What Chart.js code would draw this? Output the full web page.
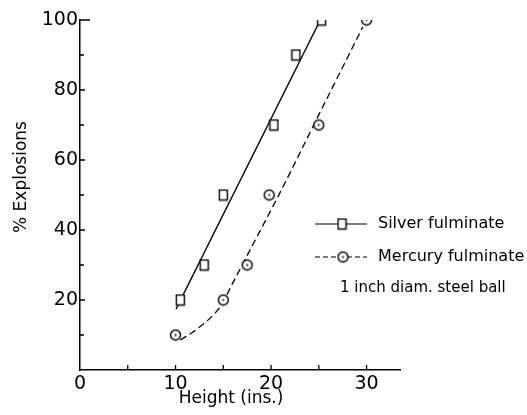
<!DOCTYPE html>
<html>
<head>
<meta charset="utf-8">
<script src="https://cdn.jsdelivr.net/npm/chart.js@4/dist/chart.umd.min.js"></script>
<style>
  html, body { margin: 0; padding: 0; background: #fff; }
  #wrap { width: 527px; height: 415px; position: relative; }
</style>
</head>
<body>
<div id="wrap"><canvas id="c" width="527" height="415"></canvas></div>
<script>
// ---- data ----
const silverX = [10.5, 13, 15, 20.3, 22.6, 25.3];
const silverY = [20, 30, 50, 70, 90, 100];
const mercuryX = [10, 15, 17.5, 19.8, 25, 30];
const mercuryY = [10, 20, 30, 50, 70, 100];
const silverFitX = [10.05, 24.9];
const silverFitY = [17.4, 98.6];
const mercuryCurveX = [10.5, 12.2, 14.7, 16, 17.8, 20.7, 25, 29.6];
const mercuryCurveY = [8.6, 11.6, 18.2, 24.9, 34.3, 49.4, 72.9, 98];
const xTickLabels = [0, 10, 20, 30];
const xMinorTicks = [5, 15, 25];
const yTickLabels = [20, 40, 60, 80, 100];
const yMinorTicks = [10, 30, 50, 70, 90];
const legendLabels = ['Silver fulminate', 'Mercury fulminate'];
const noteText = '1 inch diam. steel ball';
const xTitle = 'Height (ins.)';
const yTitle = '% Explosions';

const FONT = '"DejaVu Sans", "Liberation Sans", sans-serif';

function zip(xs, ys) { return xs.map((x, i) => ({ x: x, y: ys[i] })); }

function makeSquare() {
  const c = document.createElement('canvas');
  c.width = 11; c.height = 13;
  const g = c.getContext('2d');
  g.fillStyle = '#fff'; g.fillRect(1, 1, 9, 11);
  g.strokeStyle = '#000'; g.lineWidth = 1.4;
  g.strokeRect(1.5, 1.5, 8, 10);
  return c;
}
function makeCircle() {
  const c = document.createElement('canvas');
  c.width = 13; c.height = 13;
  const g = c.getContext('2d');
  g.fillStyle = '#fff';
  g.beginPath(); g.arc(6.5, 6.5, 5, 0, Math.PI * 2); g.fill();
  g.strokeStyle = '#000'; g.lineWidth = 1.4;
  g.beginPath(); g.arc(6.5, 6.5, 5, 0, Math.PI * 2); g.stroke();
  g.fillStyle = '#000';
  g.beginPath(); g.arc(6.5, 6.5, 1, 0, Math.PI * 2); g.fill();
  return c;
}
const sq = makeSquare();
const ci = makeCircle();

const ticksPlugin = {
  id: 'innerTicks',
  afterDraw(chart) {
    const ctx = chart.ctx;
    const xs = chart.scales.x, ys = chart.scales.y;
    const ax = xs.left, ay = ys.bottom;
    ctx.save();
    ctx.strokeStyle = '#000';
    ctx.lineWidth = 1.3;
    ctx.beginPath();
    yTickLabels.forEach(v => {
      const p = ys.getPixelForValue(v);
      ctx.moveTo(ax, p); ctx.lineTo(ax + (v === 100 ? 10 : 5), p);
    });
    yMinorTicks.forEach(v => {
      const p = ys.getPixelForValue(v);
      ctx.moveTo(ax, p); ctx.lineTo(ax + 4, p);
    });
    xTickLabels.concat(xMinorTicks).forEach(v => {
      if (v === 0) return;
      const p = xs.getPixelForValue(v);
      ctx.moveTo(p, ay); ctx.lineTo(p, ay - 5);
    });
    ctx.stroke();

    // axis titles
    ctx.fillStyle = '#000';
    ctx.font = '17px ' + FONT;
    ctx.textAlign = 'center';
    ctx.textBaseline = 'middle';
    ctx.fillText(xTitle, 231, 399);
    ctx.save();
    ctx.translate(22, 177);
    ctx.rotate(-Math.PI / 2);
    ctx.fillText(yTitle, 0, 0);
    ctx.restore();

    // legend
    const rows = [224, 257];
    ctx.lineWidth = 1.2;
    ctx.beginPath(); ctx.setLineDash([]);
    ctx.moveTo(315, rows[0]); ctx.lineTo(367, rows[0]); ctx.stroke();
    ctx.drawImage(sq, 342 - 5.5, rows[0] - 6.5);
    ctx.beginPath(); ctx.setLineDash([5, 3]);
    ctx.moveTo(315, rows[1]); ctx.lineTo(367, rows[1]); ctx.stroke();
    ctx.setLineDash([]);
    ctx.drawImage(ci, 343 - 6.5, rows[1] - 6.5);
    ctx.font = '16px ' + FONT;
    ctx.textAlign = 'left';
    ctx.fillText(legendLabels[0], 378, rows[0]);
    ctx.fillText(legendLabels[1], 378, rows[1]);
    ctx.font = '15px ' + FONT;
    ctx.fillText(noteText, 340, 288);
    ctx.restore();
  }
};

new Chart(document.getElementById('c'), {
  type: 'scatter',
  data: {
    datasets: [
      { label: legendLabels[0], data: zip(silverX, silverY), pointStyle: sq, pointRadius: 6, showLine: false },
      { label: legendLabels[1], data: zip(mercuryX, mercuryY), pointStyle: ci, pointRadius: 6, showLine: false },
      { label: 'silver fit', data: zip(silverFitX, silverFitY), showLine: true, pointRadius: 0,
        borderColor: '#000', borderWidth: 1.3 },
      { label: 'mercury fit', data: zip(mercuryCurveX, mercuryCurveY), showLine: true, pointRadius: 0,
        borderColor: '#000', borderWidth: 1.3, borderDash: [7, 4], cubicInterpolationMode: 'monotone' }
    ]
  },
  options: {
    responsive: false,
    animation: false,
    layout: { padding: { top: 20, right: 127, left: 0, bottom: 0 } },
    plugins: { legend: { display: false }, tooltip: { enabled: false } },
    scales: {
      x: {
        type: 'linear', min: 0, max: 33.5, position: 'bottom',
        afterBuildTicks: s => { s.ticks = xTickLabels.map(v => ({ value: v })); },
        afterFit: s => { s.height = 45; },
        grid: { display: true, drawOnChartArea: false, drawTicks: false },
        border: { display: true, color: '#000', width: 1.5 },
        ticks: { padding: 3, color: '#000', font: { family: FONT, size: 19 } }
      },
      y: {
        type: 'linear', min: 0, max: 100,
        afterBuildTicks: s => { s.ticks = yTickLabels.map(v => ({ value: v })); },
        afterFit: s => { s.width = 80; },
        grid: { display: true, drawOnChartArea: false, drawTicks: false },
        border: { display: true, color: '#000', width: 1.5 },
        ticks: { padding: 2, color: '#000', font: { family: FONT, size: 19 } }
      }
    }
  },
  plugins: [ticksPlugin]
});
</script>
</body>
</html>
